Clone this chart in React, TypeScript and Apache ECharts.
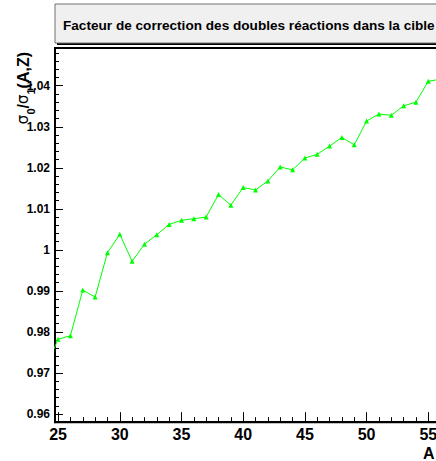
import React, { useEffect, useRef } from "react";
import * as echarts from "echarts";

const titleText = "Facteur de correction des doubles réactions dans la cible";
const massNumbers = [24, 25, 26, 27, 28, 29, 30, 31, 32, 33, 34, 35, 36, 37, 38, 39, 40, 41, 42, 43, 44, 45, 46, 47, 48, 49, 50, 51, 52, 53, 54, 55, 56];
const ratioValues = [0.9713, 0.9782, 0.9791, 0.9902, 0.9885, 0.9993, 1.0038, 0.9972, 1.0014, 1.0037, 1.0062, 1.0072, 1.0076, 1.008, 1.0135, 1.0109, 1.0152, 1.0146, 1.0168, 1.0202, 1.0195, 1.0224, 1.0233, 1.0253, 1.0274, 1.0256, 1.0314, 1.0331, 1.0328, 1.0351, 1.036, 1.0411, 1.0416];
const xMajorTicks = [25, 30, 35, 40, 45, 50, 55];
const yMajorTicks = [0.96, 0.97, 0.98, 0.99, 1.0, 1.01, 1.02, 1.03, 1.04];

const X_MIN = 24.75;
const X_MAX = 58;
const Y_MIN = 0.958;
const Y_MAX = 1.0492;

const FONT = "'Liberation Sans', Arial, Helvetica, sans-serif";

export default function App() {
  const ref = useRef<HTMLDivElement>(null);
  useEffect(() => {
    if (!ref.current) return;
    const chart = echarts.init(ref.current, null, { renderer: "svg" });
    const xMinor: number[] = [];
    for (let a = 25; a <= 58; a++) xMinor.push(a);
    const yMinor: number[] = [];
    for (let k = 479; k <= 524; k++) yMinor.push(Math.round(k * 2) / 1000);
    const data = massNumbers.map((a, i) => [a, ratioValues[i]]);

    chart.setOption({
      animation: false,
      backgroundColor: "#ffffff",
      grid: {
        left: 55,
        top: 48,
        right: 14.7,
        bottom: 38.8,
        show: true,
        borderColor: "#000",
        borderWidth: 2,
        backgroundColor: "transparent",
      },
      xAxis: [
        {
          type: "value",
          min: X_MIN,
          max: X_MAX,
          splitLine: { show: false },
          axisLine: { show: true, onZero: false, lineStyle: { color: "#000", width: 2 } },
          axisTick: { show: true, inside: true, length: 5, customValues: xMinor, lineStyle: { color: "#000", width: 1 } },
          axisLabel: {
            show: true,
            customValues: xMajorTicks,
            formatter: (v: number) => String(v),
            fontFamily: FONT,
            fontWeight: "bold",
            fontSize: 16,
            color: "#000",
            margin: 4,
          },
        },
        {
          type: "value",
          min: X_MIN,
          max: X_MAX,
          position: "bottom",
          splitLine: { show: false },
          axisLine: { show: false, onZero: false },
          axisTick: { show: true, inside: true, length: 10, customValues: xMajorTicks, lineStyle: { color: "#000", width: 1 } },
          axisLabel: { show: false },
        },
      ],
      yAxis: [
        {
          type: "value",
          min: Y_MIN,
          max: Y_MAX,
          splitLine: { show: false },
          axisLine: { show: true, onZero: false, lineStyle: { color: "#000", width: 2 } },
          axisTick: { show: true, inside: true, length: 4, customValues: yMinor, lineStyle: { color: "#000", width: 1 } },
          axisLabel: {
            show: true,
            customValues: yMajorTicks,
            formatter: (v: number) => String(Math.round(v * 100) / 100),
            fontFamily: FONT,
            fontWeight: "bold",
            fontSize: 12,
            color: "#000",
            margin: 5,
          },
        },
        {
          type: "value",
          min: Y_MIN,
          max: Y_MAX,
          position: "left",
          splitLine: { show: false },
          axisLine: { show: false, onZero: false },
          axisTick: { show: true, inside: true, length: 8, customValues: yMajorTicks, lineStyle: { color: "#000", width: 1 } },
          axisLabel: { show: false },
        },
      ],
      series: [
        {
          type: "line",
          xAxisIndex: 0,
          yAxisIndex: 0,
          data,
          clip: true,
          symbol: "triangle",
          symbolSize: 5,
          showSymbol: true,
          lineStyle: { color: "#00ff00", width: 1 },
          itemStyle: { color: "#00ff00" },
          emphasis: { disabled: true },
        },
      ],
      graphic: [
        {
          type: "rect",
          z: 10,
          shape: { x: 57, y: 6, width: 430, height: 39 },
          style: { fill: "#000" },
        },
        {
          type: "rect",
          z: 11,
          shape: { x: 55, y: 4, width: 430, height: 39 },
          style: { fill: "#f0f0f0", stroke: "#707070", lineWidth: 1 },
        },
        {
          type: "text",
          z: 12,
          x: 63,
          y: 25,
          style: {
            text: titleText,
            fontFamily: FONT,
            fontWeight: "bold",
            fontSize: 13.6,
            fill: "#000",
            align: "left",
            verticalAlign: "middle",
          },
        },
        {
          type: "text",
          z: 12,
          x: 23,
          y: 52,
          rotation: Math.PI / 2,
          style: {
            text: "{g|σ}{s|0}{b|/}{g|σ}{s|1}{b|(A,Z)}",
            align: "right",
            verticalAlign: "middle",
            rich: {
              g: { fontFamily: "'DejaVu Sans', sans-serif", fontSize: 15, fill: "#000", lineHeight: 26, verticalAlign: "middle" },
              b: { fontFamily: FONT, fontWeight: "bold", fontSize: 16, fill: "#000", lineHeight: 26, verticalAlign: "middle" },
              s: { fontFamily: FONT, fontWeight: "bold", fontSize: 11, fill: "#000", lineHeight: 11, verticalAlign: "bottom" },
            },
          },
        },
        {
          type: "text",
          z: 12,
          x: 423,
          y: 453,
          style: {
            text: "A",
            fontFamily: FONT,
            fontWeight: "bold",
            fontSize: 16,
            fill: "#000",
            align: "left",
            verticalAlign: "middle",
          },
        },
      ],
    });
    return () => chart.dispose();
  }, []);

  return (
    <div style={{ position: "fixed", left: 0, top: 0, width: 436, height: 461, overflow: "hidden", background: "#fff" }}>
      <div ref={ref} style={{ width: 480, height: 461 }} />
    </div>
  );
}
